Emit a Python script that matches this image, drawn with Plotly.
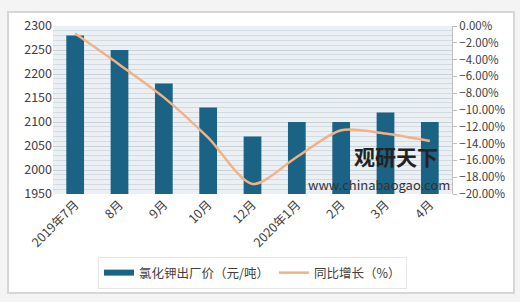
import plotly.graph_objects as go

categories = ["2019年7月", "8月", "9月", "10月", "12月", "2020年1月", "2月", "3月", "4月"]
price = [2280, 2250, 2180, 2130, 2070, 2100, 2100, 2120, 2100]
yoy = [-0.009, -0.046, -0.085, -0.133, -0.188, -0.156, -0.124, -0.128, -0.137]

bar_name = "氯化钾出厂价（元/吨）"
line_name = "同比增长（%）"

font_family = "Noto Sans CJK SC, Noto Sans, sans-serif"
txt = "#404040"
bar_color = "#1b6385"
line_color = "#f4b183"

L, R, T, B = 53, 452, 26, 194
W, H = 520, 302
pw, ph = R - L, B - T

def px(x):
    return (x - L) / pw

def py(y):
    return (B - y) / ph

fig = go.Figure()
fig.add_trace(go.Bar(x=categories, y=price, name=bar_name, marker=dict(color=bar_color, line=dict(width=0)),
                     width=0.4, yaxis="y", showlegend=False))
fig.add_trace(go.Scatter(x=[None], y=[None], name=bar_name, mode="lines",
                         line=dict(color=bar_color, width=6), yaxis="y", showlegend=True))
fig.add_trace(go.Scatter(x=categories, y=yoy, name=line_name, mode="lines",
                         line=dict(color=line_color, width=2.5, shape="spline", smoothing=0.8), yaxis="y2"))

shapes = [
    dict(type="rect", xref="paper", yref="paper", x0=px(8), x1=px(514), y0=py(293), y1=py(12),
         fillcolor="white", line=dict(color="#d6d6d6", width=2), layer="below"),
    dict(type="rect", xref="paper", yref="paper", x0=0, x1=1, y0=0, y1=1,
         fillcolor="#eaf0f4", line=dict(width=0), layer="below"),
]

fig.update_layout(
    width=W, height=H,
    margin=dict(l=L, r=W - R, t=T, b=H - B),
    paper_bgcolor="#f4f4f4",
    plot_bgcolor="#eaf0f4",
    font=dict(family=font_family, size=11, color=txt),
    showlegend=True,
    legend=dict(orientation="h", x=0.5, xanchor="center", y=py(273), yanchor="middle",
                bgcolor="white", bordercolor="#e6e6e6", borderwidth=1,
                font=dict(size=12.5, color=txt), itemwidth=30, tracegroupgap=0),
    bargap=0.6,
    xaxis=dict(type="category", tickangle=-45, tickfont=dict(size=12.5, color=txt),
               showgrid=False, showline=False, ticks=""),
    yaxis=dict(range=[1950, 2300], dtick=50, tickfont=dict(size=12.5, color=txt),
               showgrid=True, gridcolor="#c9d2d9", gridwidth=1, zeroline=False,
               minor=dict(dtick=10, showgrid=True, gridcolor="#d3dbe1", gridwidth=1),
               showline=False, ticks=""),
    yaxis2=dict(range=[-0.20, 0.0], dtick=0.02, tickformat=".2%", overlaying="y", side="right",
                showgrid=False, zeroline=False, showline=True, linecolor="#bfbfbf", linewidth=1,
                ticks="outside", ticklen=4, tickcolor="#bfbfbf", tickfont=dict(size=11.5, color=txt)),
    shapes=shapes,
    annotations=[
        dict(xref="paper", yref="paper", x=px(352), y=py(156), text="<b>观研天下</b>", showarrow=False,
             xanchor="left", yanchor="middle", font=dict(size=21, color="#222222")),
        dict(xref="paper", yref="paper", x=px(306), y=py(184), text="www.chinabaogao.com", showarrow=False,
             xanchor="left", yanchor="middle", font=dict(size=13, color="#333333")),
    ],
)

fig.write_html("out.html")
